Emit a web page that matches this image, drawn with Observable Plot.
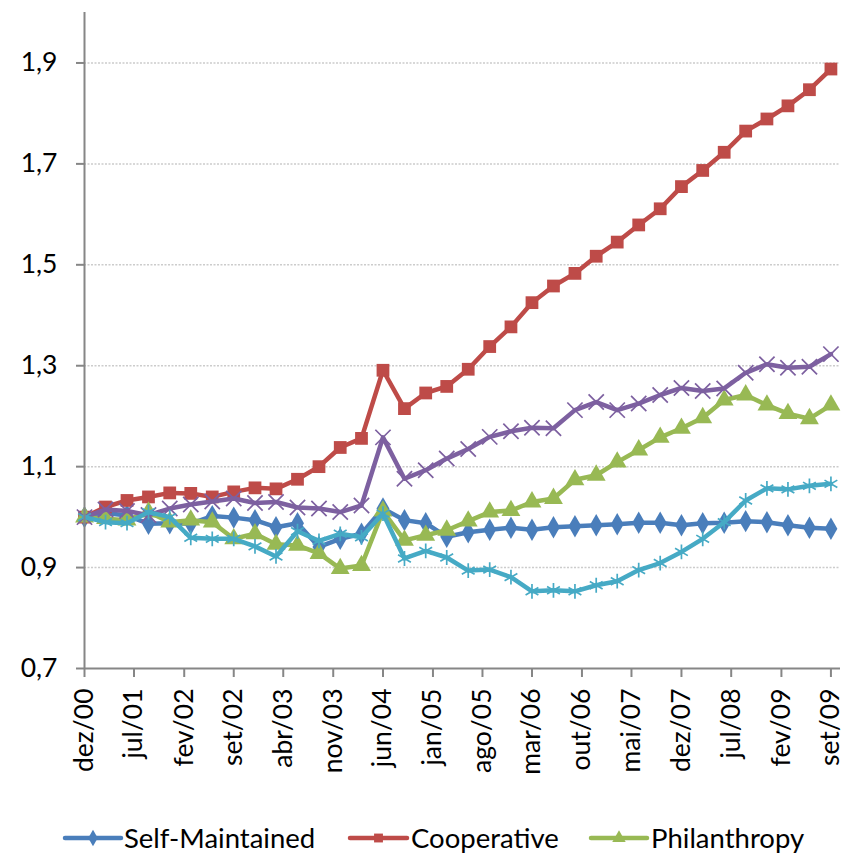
<!DOCTYPE html>
<html>
<head>
<meta charset="utf-8">
<script src="https://cdn.jsdelivr.net/npm/d3@7"></script>
<script src="https://cdn.jsdelivr.net/npm/@observablehq/plot@0.6"></script>
<style>
  html, body { margin: 0; padding: 0; background: #fff; }
  body { width: 848px; height: 854px; overflow: hidden; font-family: Lato, "Noto Sans", sans-serif; }
  #chart svg, #legend svg { display: block; }
</style>
</head>
<body>
<div id="chart"></div>
<div id="legend"></div>
<script>
// ---- data ----
const quarters = [
  "2000-12","2001-03","2001-06","2001-09","2001-12","2002-03","2002-06","2002-09","2002-12",
  "2003-03","2003-06","2003-09","2003-12","2004-03","2004-06","2004-09","2004-12","2005-03",
  "2005-06","2005-09","2005-12","2006-03","2006-06","2006-09","2006-12","2007-03","2007-06",
  "2007-09","2007-12","2008-03","2008-06","2008-09","2008-12","2009-03","2009-06","2009-09"
];
const selfMaintained = [1.000,1.008,1.003,0.987,0.988,0.987,1.002,0.999,0.994,0.980,0.988,0.941,
  0.957,0.967,1.017,0.994,0.988,0.961,0.970,0.975,0.979,0.975,0.980,0.982,0.984,0.986,0.989,
  0.989,0.984,0.988,0.989,0.992,0.990,0.984,0.979,0.977];
const cooperative = [1.000,1.020,1.033,1.040,1.048,1.047,1.040,1.050,1.058,1.056,1.075,1.100,
  1.138,1.156,1.291,1.215,1.246,1.259,1.293,1.338,1.377,1.425,1.458,1.483,1.517,1.545,1.579,
  1.611,1.655,1.687,1.723,1.765,1.789,1.815,1.847,1.888];
const philanthropy = [1.000,0.997,0.994,1.010,0.990,0.994,0.990,0.957,0.967,0.946,0.944,0.928,
  0.898,0.904,1.012,0.954,0.964,0.974,0.992,1.010,1.013,1.030,1.037,1.074,1.083,1.109,1.133,
  1.158,1.176,1.197,1.232,1.242,1.222,1.205,1.195,1.222];
const series4 = [1.000,1.015,1.012,1.004,1.017,1.025,1.031,1.037,1.028,1.030,1.019,1.017,
  1.010,1.023,1.158,1.076,1.093,1.116,1.135,1.159,1.170,1.177,1.176,1.212,1.228,1.212,1.225,
  1.242,1.256,1.250,1.255,1.286,1.303,1.296,1.298,1.323];
const series5 = [1.000,0.990,0.988,1.010,1.000,0.959,0.957,0.957,0.942,0.922,0.972,0.953,
  0.967,0.960,1.007,0.918,0.933,0.920,0.894,0.896,0.881,0.853,0.855,0.853,0.865,0.873,0.895,
  0.909,0.931,0.957,0.990,1.033,1.057,1.055,1.062,1.066];

const tickLabels = ["dez/00","jul/01","fev/02","set/02","abr/03","nov/03","jun/04","jan/05",
  "ago/05","mar/06","out/06","mai/07","dez/07","jul/08","fev/09","set/09"];
const yTicks = [0.7, 0.9, 1.1, 1.3, 1.5, 1.7, 1.9];
const legendNames = ["Self-Maintained", "Cooperative", "Philanthropy"];

// ---- helpers ----
const monthIdx = {jan:0,fev:1,mar:2,abr:3,mai:4,jun:5,jul:6,ago:7,set:8,out:9,nov:10,dez:11};
const parseQ = s => { const [y, m] = s.split("-").map(Number); return new Date(Date.UTC(y, m - 1, 1)); };
const tickDates = tickLabels.map(l => { const [m, y] = l.split("/"); return new Date(Date.UTC(2000 + Number(y), monthIdx[m], 1)); });
const labelOf = new Map(tickDates.map((d, i) => [+d, tickLabels[i]]));
const dates = quarters.map(parseQ);
const toRows = vals => dates.map((d, i) => ({date: d, v: vals[i]}));

const specs = [
  {vals: selfMaintained, color: "#4A7EBB", symbol: "diamond", r: 6.8, kind: "fill"},
  {vals: cooperative,    color: "#BE4B48", symbol: "square",  r: 7.2, kind: "fill"},
  {vals: philanthropy,   color: "#98B954", symbol: "triangle", r: 7.0, kind: "fill"},
  {vals: series4,        color: "#7D60A0", symbol: "times",   r: 7.0, kind: "stroke"},
  {vals: series5,        color: "#46AAC5", symbol: "asterisk", r: 7.0, kind: "stroke"}
];

const axisColor = "#868686";
const fontFam = "Lato, 'Noto Sans', sans-serif";
const marks = [
  Plot.gridY(yTicks.filter(t => t > 0.7), {stroke: "#cccccc", strokeOpacity: 1, strokeWidth: 1.5, strokeDasharray: "2,1.5"}),
];
for (const s of specs) {
  const rows = toRows(s.vals);
  marks.push(Plot.line(rows, {x: "date", y: "v", stroke: s.color, strokeWidth: 4.5, strokeLinejoin: "round"}));
  if (s.kind === "fill") {
    marks.push(Plot.dot(rows, {x: "date", y: "v", symbol: s.symbol, r: s.r, fill: s.color, stroke: "none"}));
  } else {
    marks.push(Plot.dot(rows, {x: "date", y: "v", symbol: s.symbol, r: s.r, fill: "none", stroke: s.color, strokeWidth: 1.7}));
  }
}
marks.push(
  Plot.ruleX([tickDates[0]], {stroke: axisColor, strokeWidth: 2}),
  Plot.ruleY([0.7], {stroke: axisColor, strokeWidth: 2}),
  Plot.axisY({ticks: yTicks, tickFormat: d => d.toFixed(1).replace(".", ","), tickSize: 8, tickPadding: 19,
    stroke: axisColor, strokeWidth: 2, fontSize: 26.5, label: null}),
  Plot.axisX({ticks: tickDates, tickFormat: d => labelOf.get(+d), tickRotate: -90, tickSize: 9, tickPadding: 11,
    stroke: axisColor, strokeWidth: 2, fontSize: 26.5, label: null})
);

const chart = Plot.plot({
  width: 848,
  height: 790,
  marginLeft: 84,
  marginRight: 8,
  marginTop: 12,
  marginBottom: 122,
  style: {fontFamily: fontFam, color: "#000", background: "#fff", overflow: "visible"},
  x: {type: "utc", domain: [tickDates[0], new Date(Date.UTC(2009, 9, 12))]},
  y: {domain: [0.7, 2.0]},
  marks
});
document.getElementById("chart").appendChild(chart);

// ---- legend (below the plot) ----
const lg = d3.select("#legend").append("svg").attr("width", 848).attr("height", 64);
const legendPos = [{x0: 65, x1: 121, tx: 124}, {x0: 350, x1: 407, tx: 411}, {x0: 591, x1: 647, tx: 651}];
legendNames.forEach((name, i) => {
  const s = specs[i], p = legendPos[i], cy = 48;
  lg.append("line").attr("x1", p.x0).attr("x2", p.x1).attr("y1", cy).attr("y2", cy)
    .attr("stroke", s.color).attr("stroke-width", 4.5).attr("stroke-linecap", "round");
  const sym = {diamond: d3.symbolDiamond, square: d3.symbolSquare, triangle: d3.symbolTriangle}[s.symbol];
  lg.append("path").attr("d", d3.symbol(sym, Math.PI * 5 * 5)())
    .attr("transform", `translate(${(p.x0 + p.x1) / 2},${cy})`).attr("fill", s.color);
  lg.append("text").attr("x", p.tx).attr("y", cy).attr("dy", "0.35em")
    .attr("font-family", fontFam).attr("font-size", 27.5).attr("fill", "#000").text(name);
});
</script>
</body>
</html>
